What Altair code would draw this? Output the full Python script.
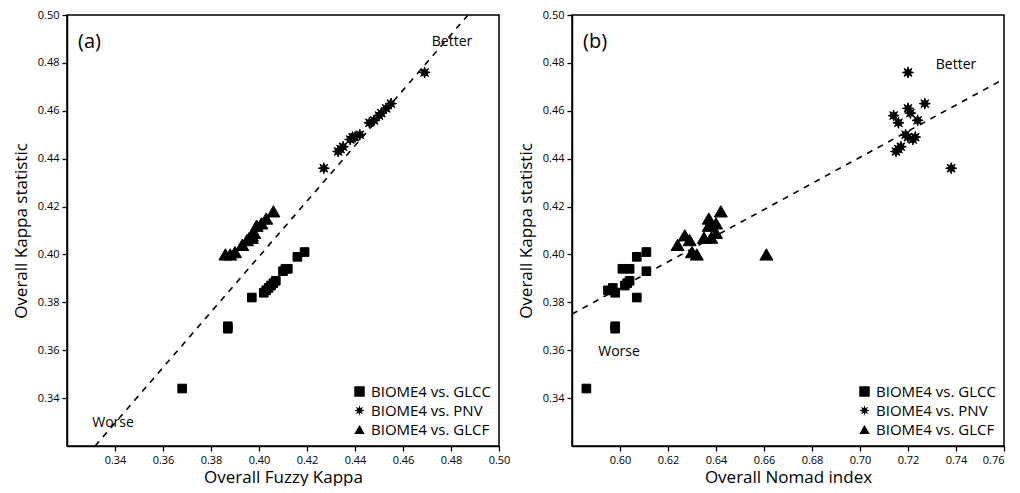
import math
import altair as alt
import pandas as pd

# ---- data ----
glcc_kappa = [0.344, 0.369, 0.370, 0.382, 0.384, 0.385, 0.386, 0.387, 0.388, 0.389, 0.393, 0.394, 0.394, 0.399, 0.401]
glcc_fuzzy = [0.368, 0.387, 0.387, 0.397, 0.402, 0.403, 0.404, 0.405, 0.406, 0.407, 0.410, 0.412, 0.411, 0.416, 0.419]
glcc_nomad = [0.586, 0.598, 0.598, 0.607, 0.598, 0.595, 0.597, 0.602, 0.603, 0.604, 0.611, 0.601, 0.604, 0.607, 0.611]

pnv_kappa = [0.436, 0.443, 0.444, 0.445, 0.448, 0.449, 0.449, 0.450, 0.455, 0.456, 0.458, 0.459, 0.461, 0.463, 0.476]
pnv_fuzzy = [0.427, 0.433, 0.434, 0.435, 0.438, 0.439, 0.440, 0.442, 0.446, 0.448, 0.450, 0.451, 0.453, 0.455, 0.469]
pnv_nomad = [0.738, 0.715, 0.716, 0.717, 0.722, 0.720, 0.723, 0.719, 0.716, 0.724, 0.714, 0.721, 0.720, 0.727, 0.720]

glcf_kappa = [0.400, 0.400, 0.401, 0.404, 0.406, 0.407, 0.407, 0.408, 0.409, 0.412, 0.413, 0.415, 0.418]
glcf_fuzzy = [0.386, 0.388, 0.390, 0.393, 0.395, 0.396, 0.397, 0.397, 0.398, 0.399, 0.401, 0.403, 0.406]
glcf_nomad = [0.661, 0.632, 0.630, 0.624, 0.629, 0.635, 0.638, 0.627, 0.640, 0.637, 0.640, 0.637, 0.642]

series_names = ["BIOME4 vs. GLCC", "BIOME4 vs. PNV", "BIOME4 vs. GLCF"]

fit_a_x = [0.3317, 0.4871]
fit_a_y = [0.32, 0.50]
fit_b_x = [0.58, 0.76]
fit_b_y = [0.3751, 0.4733]

y_ticks = [0.34, 0.36, 0.38, 0.40, 0.42, 0.44, 0.46, 0.48, 0.50]
xa_ticks = [0.34, 0.36, 0.38, 0.40, 0.42, 0.44, 0.46, 0.48, 0.50]
xb_ticks = [0.60, 0.62, 0.64, 0.66, 0.68, 0.70, 0.72, 0.74, 0.76]

# ---- tables ----
rows = []
for name, k, f, n in [
    (series_names[0], glcc_kappa, glcc_fuzzy, glcc_nomad),
    (series_names[1], pnv_kappa, pnv_fuzzy, pnv_nomad),
    (series_names[2], glcf_kappa, glcf_fuzzy, glcf_nomad),
]:
    for kk, ff, nn in zip(k, f, n):
        rows.append({"series": name, "kappa": kk, "fuzzy": ff, "nomad": nn})
df = pd.DataFrame(rows)

FONT = "Open Sans"
# filled 8-point asterisk-like star symbol
pts_path = []
for i in range(16):
    r = 1.0 if i % 2 == 0 else 0.45
    ang = math.pi / 8 * i - math.pi / 2
    pts_path.append(f"{r * math.cos(ang):.3f},{r * math.sin(ang):.3f}")
ASTER = "M" + "L".join(pts_path) + "Z"

shape_scale = alt.Scale(domain=series_names, range=["square", ASTER, "triangle-up"])
size_scale = alt.Scale(domain=series_names, range=[75, 170, 85])

W, H = 432, 431


def panel(xfield, xtitle, xdom, xticks, fx, fy, tag, better_pos, worse_pos, flush):
    xs = alt.Scale(domain=xdom, nice=False, zero=False)
    ys = alt.Scale(domain=[0.32, 0.50], nice=False, zero=False)
    xax = alt.Axis(values=xticks, format=".2f", title=xtitle, grid=False, titlePadding=4,
                   labelFlush=flush)
    yax = alt.Axis(values=y_ticks, format=".2f", title="Overall Kappa statistic", grid=False,
                   titlePadding=7)

    pts = alt.Chart(df).mark_point(
        filled=True, fill="black", stroke="black", strokeWidth=1.0, opacity=1
    ).encode(
        x=alt.X(f"{xfield}:Q", scale=xs, axis=xax),
        y=alt.Y("kappa:Q", scale=ys, axis=yax),
        shape=alt.Shape("series:N", scale=shape_scale, title=None,
                        legend=alt.Legend(orient="bottom-right", offset=8,
                                          symbolFillColor="black", symbolStrokeColor="black",
                                          symbolStrokeWidth=1.0, symbolSize=110,
                                          labelFontSize=15, labelFont=FONT, labelColor="black",
                                          rowPadding=3, padding=0, symbolOpacity=1)),
        size=alt.Size("series:N", scale=size_scale, legend=None),
    )

    fit = alt.Chart(pd.DataFrame({"x": fx, "y": fy})).mark_line(
        color="black", strokeDash=[6, 6], strokeWidth=1.6, clip=True
    ).encode(x=alt.X("x:Q", scale=xs), y=alt.Y("y:Q", scale=ys))

    t_tag = alt.Chart(pd.DataFrame({"t": [tag]})).mark_text(
        align="left", baseline="middle", fontSize=20, font=FONT, color="black"
    ).encode(x=alt.value(11), y=alt.value(27), text="t:N")
    t_better = alt.Chart(pd.DataFrame({"t": ["Better"]})).mark_text(
        align="center", baseline="middle", fontSize=14, font=FONT, color="black"
    ).encode(x=alt.value(better_pos[0]), y=alt.value(better_pos[1]), text="t:N")
    t_worse = alt.Chart(pd.DataFrame({"t": ["Worse"]})).mark_text(
        align="center", baseline="middle", fontSize=14, font=FONT, color="black"
    ).encode(x=alt.value(worse_pos[0]), y=alt.value(worse_pos[1]), text="t:N")

    return alt.layer(fit, pts, t_tag, t_better, t_worse).properties(width=W, height=H)


pa = panel("fuzzy", "Overall Fuzzy Kappa", [0.32, 0.50], xa_ticks, fit_a_x, fit_a_y,
           "(a)", (385, 27), (46, 408), False)
pb = panel("nomad", "Overall Nomad index", [0.58, 0.76], xb_ticks, fit_b_x, fit_b_y,
           "(b)", (384, 50), (47, 337), True)

chart = alt.hconcat(pa, pb, spacing=5).resolve_legend(shape="independent").properties(
    padding={"left": 3, "top": 0, "right": 0, "bottom": 0}, background="white"
).configure_view(stroke="black", strokeWidth=1.5).configure_axis(
    domainColor="black", domainWidth=1.5, tickColor="black", tickSize=5, tickWidth=1.3,
    labelFont=FONT, labelFontSize=11, labelColor="black", labelPadding=3,
    titleFont=FONT, titleFontSize=17, titleFontWeight="normal", titleColor="black",
)

chart.save("out.html", embed_options={"renderer": "svg", "actions": False})
